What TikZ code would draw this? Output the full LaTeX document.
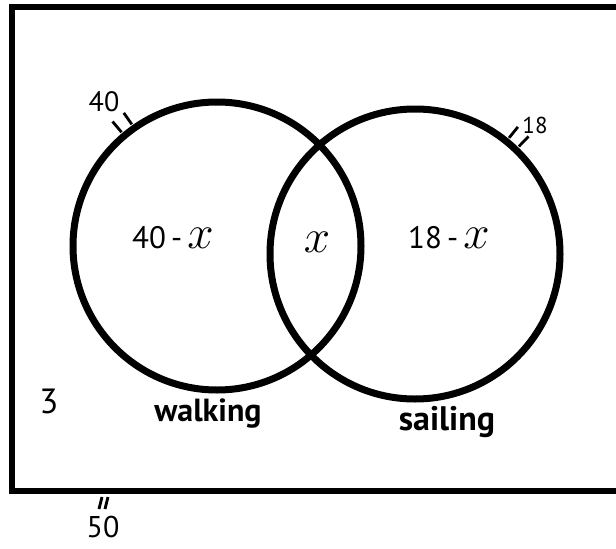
\documentclass[tikz,border=0pt]{standalone}
\usepackage{fontspec}
\usepackage{graphicx}
\setmainfont{PT Sans}
\newcommand{\bigx}{\scalebox{1.9}{$x$}}
\begin{document}
\begin{tikzpicture}[x=1pt,y=-1pt,
  ring/.style={circle,draw,line width=7pt,inner sep=0pt,minimum size=288pt},
  lab/.style={font=\fontsize{31}{33}\selectfont,inner sep=0pt},
  small/.style={font=\fontsize{28}{30}\selectfont,inner sep=0pt},
  word/.style={font=\fontsize{32}{34}\selectfont\bfseries,inner sep=0pt},
  hatch/.style={line width=2.8pt}]
\useasboundingbox (0,0) rectangle (616,549);
\begin{scope}
\clip (0,0) rectangle (616,549);
\draw[line width=5.5pt] (12,7) rectangle (640,491);
\end{scope}
\node[ring] (L) at (217,246) {};
\node[ring,minimum size=290pt] (R) at (415,254) {};
\node[lab] (a) at (173,238) {40\,-\,\bigx};
\node[lab] (b) at (317,242) {\bigx};
\node[lab] (c) at (449,238) {18\,-\,\bigx};
\node[small,font=\fontsize{35}{37}\selectfont] (n3) at (49,401) {3};
\node[word] (w) at (208,414) {walking};
\node[word,font=\fontsize{34}{36}\selectfont\bfseries] (s) at (447,422) {sailing};
\node[small] (n40) at (104,102) {40};
\node[small,font=\fontsize{23}{25}\selectfont] (n18) at (535,125) {18};
\node[small,font=\fontsize{30}{32}\selectfont] (n50) at (103,527) {50};
\draw[hatch] ([shift={(-125:1)}]L.125) -- ([shift={(-125:15)}]L.125);
\draw[hatch] ([shift={(-130:1)}]L.130) -- ([shift={(-130:15)}]L.130);
\draw[hatch] ([shift={(-46:1)}]R.46) -- ([shift={(-46:15)}]R.46);
\draw[hatch] ([shift={(-51:1)}]R.51) -- ([shift={(-51:15)}]R.51);
\coordinate (t1) at (102,497);
\coordinate (t2) at (108,497);
\draw[hatch] (t1) -- ++(-3,12);
\draw[hatch] (t2) -- ++(-3,12);
\end{tikzpicture}
\end{document}
